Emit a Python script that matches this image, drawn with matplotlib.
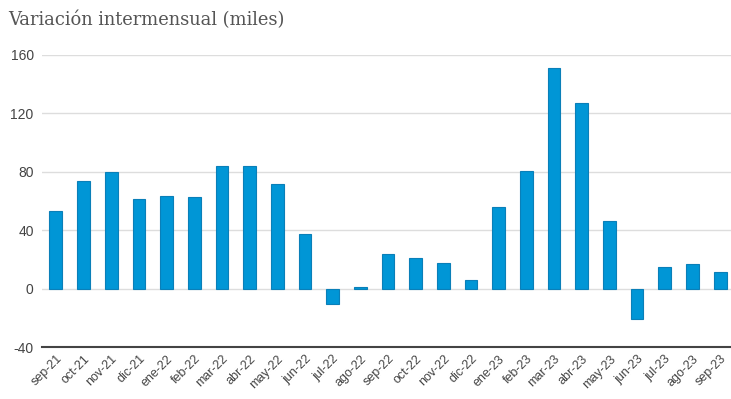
import matplotlib.pyplot as plt

meses = ["sep-21", "oct-21", "nov-21", "dic-21", "ene-22", "feb-22", "mar-22",
         "abr-22", "may-22", "jun-22", "jul-22", "ago-22", "sep-22", "oct-22",
         "nov-22", "dic-22", "ene-23", "feb-23", "mar-23", "abr-23", "may-23",
         "jun-23", "jul-23", "ago-23", "sep-23"]
variacion = [53.5, 74, 80, 61.3, 63.8, 63.1, 84, 84, 71.5, 37.6, -10.3, 1.6,
             23.9, 21.2, 17.8, 5.9, 56.3, 80.9, 150.8, 127.2, 46.7, -20.5,
             15.2, 17.1, 11.8]
yticks = [-40, 0, 40, 80, 120, 160]

fig = plt.figure(figsize=(7.31, 3.99), dpi=100)
ax = fig.add_axes([42 / 731, (399 - 347.3) / 399, 692 / 731, 292.3 / 399])

x = range(len(meses))
ax.bar(x, variacion, width=0.46, color="#0096d6", edgecolor="#0a7fb8",
       linewidth=0.8, zorder=3)

ax.set_xlim(-0.5, 24.5)
ax.set_ylim(-40, 160)
ax.set_yticks(yticks)
ax.set_yticklabels([str(v) for v in yticks], fontsize=10,
                   family="Liberation Sans", color="#444444")
ax.set_xticks(list(x))
ax.set_xticklabels(meses, rotation=45, ha="right", rotation_mode="anchor",
                   fontsize=9, family="Liberation Sans", color="#444444")
ax.tick_params(axis="both", length=0, pad=6)
ax.tick_params(axis="x", pad=4)

ax.grid(axis="y", color="#dddddd", linewidth=1, zorder=0)
for s in ["top", "right", "left"]:
    ax.spines[s].set_visible(False)
ax.spines["bottom"].set_color("#444444")
ax.spines["bottom"].set_linewidth(1.5)

fig.text(8 / 731, 1 - 20 / 399, "Variación intermensual (miles)",
         family="DejaVu Serif", fontsize=12.9, color="#555555", va="center")

fig.savefig("out.png", dpi=100)
